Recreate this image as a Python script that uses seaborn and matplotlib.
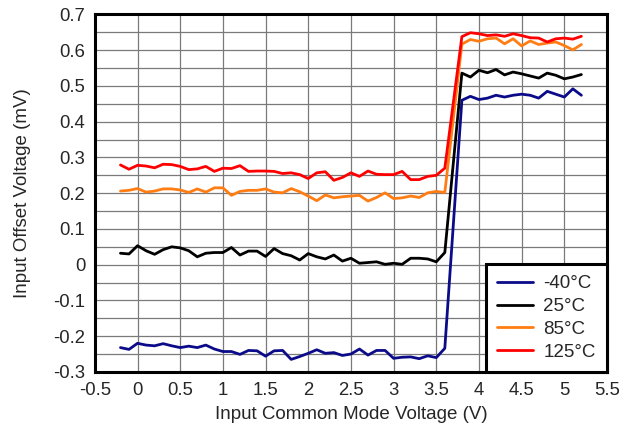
import numpy as np
import pandas as pd
import matplotlib
matplotlib.use("Agg")
import matplotlib.pyplot as plt
import seaborn as sns

sns.set_style("white")
plt.rcParams['font.family'] = ['Liberation Sans', 'DejaVu Sans']

# measurement points (V)
vcm = [-0.2, -0.1, 0.0, 0.1, 0.2, 0.3, 0.4, 0.5, 0.6, 0.7, 0.8, 0.9, 1.0,
       1.1, 1.2, 1.3, 1.4, 1.5, 1.6, 1.7, 1.8, 1.9, 2.0, 2.1, 2.2, 2.3, 2.4,
       2.5, 2.6, 2.7, 2.8, 2.9, 3.0, 3.1, 3.2, 3.3, 3.4, 3.5, 3.6,
       3.8, 3.9, 4.0, 4.1, 4.2, 4.3, 4.4, 4.5, 4.6, 4.7, 4.8, 4.9, 5.0, 5.1, 5.2]

temps = ['-40°C', '25°C', '85°C', '125°C']
colors = ['#0b0b8a', '#000000', '#ff7d13', '#ff0000']

vos_m40 = [-0.232, -0.237, -0.220, -0.225, -0.227, -0.221, -0.227, -0.232, -0.228, -0.232,
           -0.225, -0.236, -0.243, -0.243, -0.251, -0.240, -0.241, -0.256, -0.241, -0.240,
           -0.265, -0.257, -0.248, -0.238, -0.248, -0.246, -0.254, -0.250, -0.236, -0.253,
           -0.240, -0.240, -0.262, -0.259, -0.258, -0.263, -0.255, -0.260, -0.234,
           0.460, 0.471, 0.462, 0.466, 0.474, 0.469, 0.474, 0.477, 0.474, 0.466,
           0.485, 0.477, 0.469, 0.492, 0.474]
vos_25 = [0.032, 0.030, 0.053, 0.039, 0.029, 0.042, 0.050, 0.047, 0.039, 0.022,
          0.032, 0.034, 0.034, 0.048, 0.027, 0.038, 0.038, 0.023, 0.045, 0.031,
          0.025, 0.013, 0.031, 0.022, 0.016, 0.027, 0.010, 0.018, 0.004, 0.006,
          0.008, 0.001, 0.004, 0.001, 0.018, 0.018, 0.016, 0.008, 0.034,
          0.536, 0.525, 0.544, 0.537, 0.546, 0.531, 0.539, 0.534, 0.528, 0.522,
          0.536, 0.530, 0.520, 0.525, 0.532]
vos_85 = [0.206, 0.208, 0.213, 0.203, 0.206, 0.212, 0.212, 0.209, 0.202, 0.212,
          0.203, 0.215, 0.215, 0.194, 0.205, 0.208, 0.208, 0.212, 0.203, 0.201,
          0.213, 0.204, 0.192, 0.179, 0.195, 0.187, 0.190, 0.192, 0.194, 0.178,
          0.188, 0.201, 0.185, 0.187, 0.192, 0.188, 0.201, 0.205, 0.202,
          0.617, 0.630, 0.625, 0.632, 0.634, 0.618, 0.632, 0.612, 0.626, 0.616,
          0.620, 0.623, 0.613, 0.601, 0.616]
vos_125 = [0.279, 0.267, 0.278, 0.276, 0.271, 0.281, 0.280, 0.275, 0.266, 0.268,
           0.275, 0.261, 0.270, 0.269, 0.277, 0.261, 0.262, 0.262, 0.261, 0.255,
           0.257, 0.252, 0.241, 0.257, 0.260, 0.236, 0.244, 0.257, 0.247, 0.262,
           0.253, 0.252, 0.252, 0.261, 0.238, 0.238, 0.247, 0.250, 0.270,
           0.638, 0.649, 0.646, 0.641, 0.643, 0.639, 0.646, 0.641, 0.635, 0.634,
           0.623, 0.632, 0.634, 0.631, 0.639]

frames = []
for t, v in zip(temps, [vos_m40, vos_25, vos_85, vos_125]):
    frames.append(pd.DataFrame({'vcm': vcm, 'vos': v, 'temp': t}))
df = pd.concat(frames, ignore_index=True)

fig, ax = plt.subplots(figsize=(6.2, 4.26), dpi=100)
fig.subplots_adjust(left=0.153, right=0.979, top=0.966, bottom=0.127)

sns.lineplot(data=df, x='vcm', y='vos', hue='temp', hue_order=temps,
             palette=colors, linewidth=2, sort=False, estimator=None, ax=ax)

ax.set_xlim(-0.5, 5.5)
ax.set_ylim(-0.3, 0.7)
ax.set_xticks(np.arange(-0.5, 5.51, 0.5))
ax.set_xticklabels(['-0.5', '0', '0.5', '1', '1.5', '2', '2.5', '3', '3.5', '4', '4.5', '5', '5.5'])
ax.set_yticks(np.arange(-0.3, 0.71, 0.1))
ax.set_yticklabels(['-0.3', '-0.2', '-0.1', '0', '0.1', '0.2', '0.3', '0.4', '0.5', '0.6', '0.7'])
ax.set_yticks(np.arange(-0.25, 0.7, 0.1), minor=True)
ax.grid(True, which='both', axis='y', color='#7a7a7a', linewidth=0.9)
ax.grid(True, which='major', axis='x', color='#7a7a7a', linewidth=0.9)
ax.set_axisbelow(True)
ax.tick_params(axis='both', which='both', length=0, labelsize=13.3, pad=7)

for s in ax.spines.values():
    s.set_linewidth(2.2)
    s.set_color('black')

ax.set_xlabel('Input Common Mode Voltage (V)', fontsize=13.5, labelpad=5)
ax.set_ylabel('Input Offset Voltage (mV)', fontsize=13.5, labelpad=16)

handles, labels = ax.get_legend_handles_labels()
leg = ax.legend(handles, labels, loc='lower right', borderaxespad=0, fontsize=13.5,
                frameon=True, fancybox=False, edgecolor='black', framealpha=1,
                handlelength=1.9, handletextpad=0.55, labelspacing=0.3,
                borderpad=0.6)
leg.get_frame().set_linewidth(2.2)

fig.savefig('out.png', dpi=100)
